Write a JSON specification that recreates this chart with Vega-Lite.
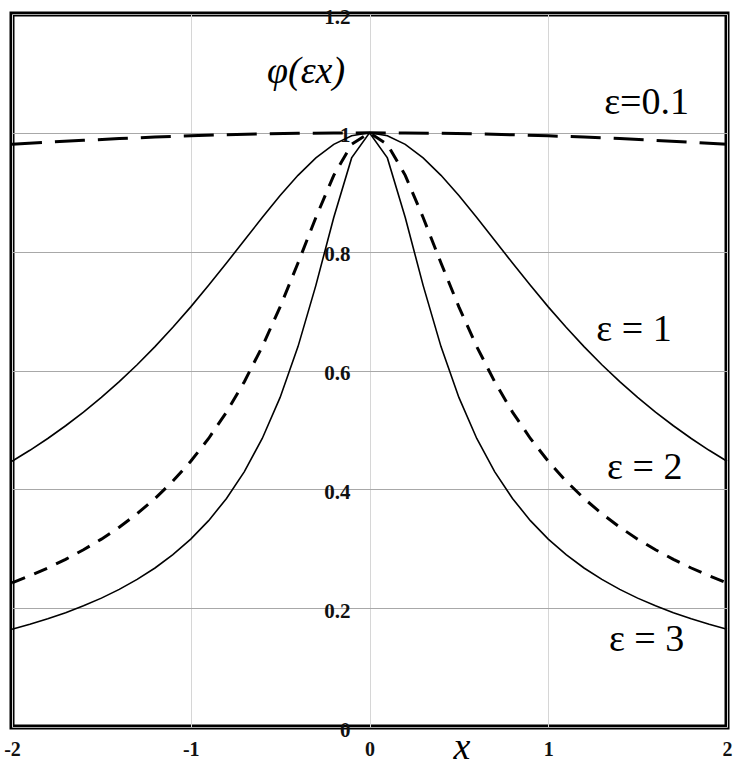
{
  "$schema": "https://vega.github.io/schema/vega-lite/v6.json",
  "width": 715,
  "height": 713,
  "autosize": "none",
  "padding": {"left": 12, "top": 14, "right": 23, "bottom": 51},
  "background": "white",
  "view": {"stroke": "black", "strokeWidth": 5},
  "config": {
    "font": "Times New Roman",
    "text": {"font": "Times New Roman"}
  },
  "datasets": {
    "curves": [
      {"e": "0.1", "x": -2, "y": 0.9806}, {"e": "0.1", "x": -1.8, "y": 0.9842}, {"e": "0.1", "x": -1.6, "y": 0.9874},
      {"e": "0.1", "x": -1.4, "y": 0.9903}, {"e": "0.1", "x": -1.2, "y": 0.9929}, {"e": "0.1", "x": -1, "y": 0.995},
      {"e": "0.1", "x": -0.8, "y": 0.9968}, {"e": "0.1", "x": -0.6, "y": 0.9982}, {"e": "0.1", "x": -0.4, "y": 0.9992},
      {"e": "0.1", "x": -0.2, "y": 0.9998}, {"e": "0.1", "x": 0, "y": 1}, {"e": "0.1", "x": 0.2, "y": 0.9998},
      {"e": "0.1", "x": 0.4, "y": 0.9992}, {"e": "0.1", "x": 0.6, "y": 0.9982}, {"e": "0.1", "x": 0.8, "y": 0.9968},
      {"e": "0.1", "x": 1, "y": 0.995}, {"e": "0.1", "x": 1.2, "y": 0.9929}, {"e": "0.1", "x": 1.4, "y": 0.9903},
      {"e": "0.1", "x": 1.6, "y": 0.9874}, {"e": "0.1", "x": 1.8, "y": 0.9842}, {"e": "0.1", "x": 2, "y": 0.9806},

      {"e": "1", "x": -2, "y": 0.4472}, {"e": "1", "x": -1.9, "y": 0.4657}, {"e": "1", "x": -1.8, "y": 0.4856},
      {"e": "1", "x": -1.7, "y": 0.507}, {"e": "1", "x": -1.6, "y": 0.53}, {"e": "1", "x": -1.5, "y": 0.5547},
      {"e": "1", "x": -1.4, "y": 0.5812}, {"e": "1", "x": -1.3, "y": 0.6097}, {"e": "1", "x": -1.2, "y": 0.6402},
      {"e": "1", "x": -1.1, "y": 0.6727}, {"e": "1", "x": -1, "y": 0.7071}, {"e": "1", "x": -0.9, "y": 0.7433},
      {"e": "1", "x": -0.8, "y": 0.7809}, {"e": "1", "x": -0.7, "y": 0.8192}, {"e": "1", "x": -0.6, "y": 0.8575},
      {"e": "1", "x": -0.5, "y": 0.8944}, {"e": "1", "x": -0.4, "y": 0.9285}, {"e": "1", "x": -0.3, "y": 0.9578},
      {"e": "1", "x": -0.2, "y": 0.9806}, {"e": "1", "x": -0.1, "y": 0.995}, {"e": "1", "x": 0, "y": 1},
      {"e": "1", "x": 0.1, "y": 0.995}, {"e": "1", "x": 0.2, "y": 0.9806}, {"e": "1", "x": 0.3, "y": 0.9578},
      {"e": "1", "x": 0.4, "y": 0.9285}, {"e": "1", "x": 0.5, "y": 0.8944}, {"e": "1", "x": 0.6, "y": 0.8575},
      {"e": "1", "x": 0.7, "y": 0.8192}, {"e": "1", "x": 0.8, "y": 0.7809}, {"e": "1", "x": 0.9, "y": 0.7433},
      {"e": "1", "x": 1, "y": 0.7071}, {"e": "1", "x": 1.1, "y": 0.6727}, {"e": "1", "x": 1.2, "y": 0.6402},
      {"e": "1", "x": 1.3, "y": 0.6097}, {"e": "1", "x": 1.4, "y": 0.5812}, {"e": "1", "x": 1.5, "y": 0.5547},
      {"e": "1", "x": 1.6, "y": 0.53}, {"e": "1", "x": 1.7, "y": 0.507}, {"e": "1", "x": 1.8, "y": 0.4856},
      {"e": "1", "x": 1.9, "y": 0.4657}, {"e": "1", "x": 2, "y": 0.4472},

      {"e": "2", "x": -2, "y": 0.2425}, {"e": "2", "x": -1.9, "y": 0.2545}, {"e": "2", "x": -1.8, "y": 0.2676},
      {"e": "2", "x": -1.7, "y": 0.2822}, {"e": "2", "x": -1.6, "y": 0.2983}, {"e": "2", "x": -1.5, "y": 0.3162},
      {"e": "2", "x": -1.4, "y": 0.3363}, {"e": "2", "x": -1.3, "y": 0.359}, {"e": "2", "x": -1.2, "y": 0.3846},
      {"e": "2", "x": -1.1, "y": 0.4138}, {"e": "2", "x": -1, "y": 0.4472}, {"e": "2", "x": -0.9, "y": 0.4856},
      {"e": "2", "x": -0.8, "y": 0.53}, {"e": "2", "x": -0.7, "y": 0.5812}, {"e": "2", "x": -0.6, "y": 0.6402},
      {"e": "2", "x": -0.5, "y": 0.7071}, {"e": "2", "x": -0.4, "y": 0.7809}, {"e": "2", "x": -0.3, "y": 0.8575},
      {"e": "2", "x": -0.2, "y": 0.9285}, {"e": "2", "x": -0.1, "y": 0.9806}, {"e": "2", "x": 0, "y": 1},
      {"e": "2", "x": 0.1, "y": 0.9806}, {"e": "2", "x": 0.2, "y": 0.9285}, {"e": "2", "x": 0.3, "y": 0.8575},
      {"e": "2", "x": 0.4, "y": 0.7809}, {"e": "2", "x": 0.5, "y": 0.7071}, {"e": "2", "x": 0.6, "y": 0.6402},
      {"e": "2", "x": 0.7, "y": 0.5812}, {"e": "2", "x": 0.8, "y": 0.53}, {"e": "2", "x": 0.9, "y": 0.4856},
      {"e": "2", "x": 1, "y": 0.4472}, {"e": "2", "x": 1.1, "y": 0.4138}, {"e": "2", "x": 1.2, "y": 0.3846},
      {"e": "2", "x": 1.3, "y": 0.359}, {"e": "2", "x": 1.4, "y": 0.3363}, {"e": "2", "x": 1.5, "y": 0.3162},
      {"e": "2", "x": 1.6, "y": 0.2983}, {"e": "2", "x": 1.7, "y": 0.2822}, {"e": "2", "x": 1.8, "y": 0.2676},
      {"e": "2", "x": 1.9, "y": 0.2545}, {"e": "2", "x": 2, "y": 0.2425},

      {"e": "3", "x": -2, "y": 0.1644}, {"e": "3", "x": -1.9, "y": 0.1728}, {"e": "3", "x": -1.8, "y": 0.1821},
      {"e": "3", "x": -1.7, "y": 0.1924}, {"e": "3", "x": -1.6, "y": 0.204}, {"e": "3", "x": -1.5, "y": 0.2169},
      {"e": "3", "x": -1.4, "y": 0.2316}, {"e": "3", "x": -1.3, "y": 0.2484}, {"e": "3", "x": -1.2, "y": 0.2676},
      {"e": "3", "x": -1.1, "y": 0.29}, {"e": "3", "x": -1, "y": 0.3162}, {"e": "3", "x": -0.9, "y": 0.3473},
      {"e": "3", "x": -0.8, "y": 0.3846}, {"e": "3", "x": -0.7, "y": 0.4299}, {"e": "3", "x": -0.6, "y": 0.4856},
      {"e": "3", "x": -0.5, "y": 0.5547}, {"e": "3", "x": -0.4, "y": 0.6402}, {"e": "3", "x": -0.3, "y": 0.7433},
      {"e": "3", "x": -0.2, "y": 0.8575}, {"e": "3", "x": -0.1, "y": 0.9578}, {"e": "3", "x": 0, "y": 1},
      {"e": "3", "x": 0.1, "y": 0.9578}, {"e": "3", "x": 0.2, "y": 0.8575}, {"e": "3", "x": 0.3, "y": 0.7433},
      {"e": "3", "x": 0.4, "y": 0.6402}, {"e": "3", "x": 0.5, "y": 0.5547}, {"e": "3", "x": 0.6, "y": 0.4856},
      {"e": "3", "x": 0.7, "y": 0.4299}, {"e": "3", "x": 0.8, "y": 0.3846}, {"e": "3", "x": 0.9, "y": 0.3473},
      {"e": "3", "x": 1, "y": 0.3162}, {"e": "3", "x": 1.1, "y": 0.29}, {"e": "3", "x": 1.2, "y": 0.2676},
      {"e": "3", "x": 1.3, "y": 0.2484}, {"e": "3", "x": 1.4, "y": 0.2316}, {"e": "3", "x": 1.5, "y": 0.2169},
      {"e": "3", "x": 1.6, "y": 0.204}, {"e": "3", "x": 1.7, "y": 0.1924}, {"e": "3", "x": 1.8, "y": 0.1821},
      {"e": "3", "x": 1.9, "y": 0.1728}, {"e": "3", "x": 2, "y": 0.1644}
    ],
    "labels": [
      {"text": "ε=0.1", "x": 1.55, "y": 1.05, "kind": "eps"},
      {"text": "ε = 1", "x": 1.48, "y": 0.668, "kind": "eps"},
      {"text": "ε = 2", "x": 1.54, "y": 0.436, "kind": "eps"},
      {"text": "ε = 3", "x": 1.55, "y": 0.146, "kind": "eps"},
      {"text": "φ(εx)", "x": -0.355, "y": 1.102, "kind": "axis"},
      {"text": "x", "x": 0.517, "y": -0.036, "kind": "axis"}
    ]
  },
  "layer": [
    {
      "data": {"name": "curves"},
      "transform": [{"filter": "datum.e == '1'"}],
      "mark": {"type": "line", "color": "black", "strokeWidth": 1.6},
      "encoding": {
        "x": {
          "field": "x", "type": "quantitative",
          "scale": {"domain": [-2, 2], "nice": false, "zero": false},
          "axis": {
            "title": null, "values": [-2, -1, 0, 1, 2], "format": "~g",
            "labelExpr": "replace(datum.label, '−', '-')",
            "grid": true, "gridColor": "#d6d6d6", "gridWidth": 1,
            "domain": false, "ticks": false,
            "labelFont": "Times New Roman", "labelFontWeight": "bold", "labelFontSize": 20,
            "labelColor": "#111", "labelPadding": 12, "labelFlush": false
          }
        },
        "y": {
          "field": "y", "type": "quantitative",
          "scale": {"domain": [0, 1.2], "nice": false},
          "axis": {
            "title": null, "values": [0, 0.2, 0.4, 0.6, 0.8, 1, 1.2], "format": "~g",
            "grid": true, "gridColor": "#a8a8a8", "gridWidth": 1,
            "domain": false, "ticks": false, "offset": -358,
            "labelFont": "Times New Roman", "labelFontWeight": "bold", "labelFontSize": 21,
            "labelColor": "#111", "labelPadding": 20, "labelOffset": 3, "labelFlush": false
          }
        }
      }
    },
    {
      "data": {"name": "curves"},
      "transform": [{"filter": "datum.e == '3'"}],
      "mark": {"type": "line", "color": "black", "strokeWidth": 1.6},
      "encoding": {
        "x": {"field": "x", "type": "quantitative"},
        "y": {"field": "y", "type": "quantitative"}
      }
    },
    {
      "data": {"name": "curves"},
      "transform": [{"filter": "datum.e == '2'"}],
      "mark": {"type": "line", "color": "black", "strokeWidth": 3, "strokeDash": [14, 10]},
      "encoding": {
        "x": {"field": "x", "type": "quantitative"},
        "y": {"field": "y", "type": "quantitative"}
      }
    },
    {
      "data": {"name": "curves"},
      "transform": [{"filter": "datum.e == '0.1'"}],
      "mark": {"type": "line", "color": "black", "strokeWidth": 3, "strokeDash": [30, 13]},
      "encoding": {
        "x": {"field": "x", "type": "quantitative"},
        "y": {"field": "y", "type": "quantitative"}
      }
    },
    {
      "mark": {"type": "rule", "color": "black", "strokeWidth": 2},
      "encoding": {"x": {"datum": 0, "type": "quantitative"}}
    },
    {
      "data": {"name": "labels"},
      "transform": [{"filter": "datum.kind == 'eps'"}],
      "mark": {"type": "text", "font": "Times New Roman", "fontSize": 38, "align": "center", "baseline": "middle", "color": "black"},
      "encoding": {
        "x": {"field": "x", "type": "quantitative"},
        "y": {"field": "y", "type": "quantitative"},
        "text": {"field": "text"}
      }
    },
    {
      "data": {"name": "labels"},
      "transform": [{"filter": "datum.kind == 'axis'"}],
      "mark": {"type": "text", "font": "Times New Roman", "fontStyle": "italic", "fontSize": 38, "align": "center", "baseline": "middle", "color": "black"},
      "encoding": {
        "x": {"field": "x", "type": "quantitative"},
        "y": {"field": "y", "type": "quantitative"},
        "text": {"field": "text"}
      }
    }
  ]
}
